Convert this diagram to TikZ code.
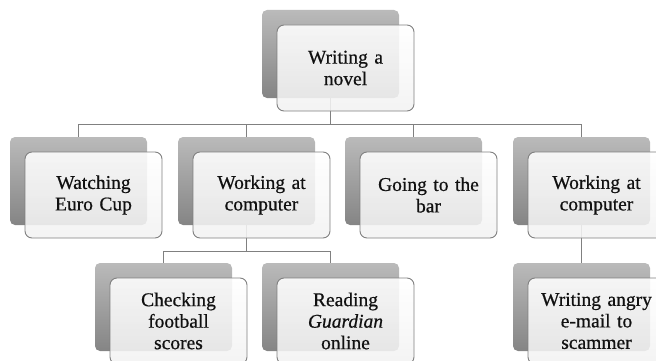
\documentclass[tikz,border=0pt]{standalone}
\usepackage{fontspec}
\setmainfont{Liberation Serif}
\newfontfamily\boxfont{Liberation Serif}[FakeBold=0.6]
\definecolor{linegray}{HTML}{808080}
\definecolor{txt}{HTML}{111111}
\tikzset{
  backbox/.style={rectangle, rounded corners=5pt, minimum width=137pt, minimum height=88pt,
    inner sep=0pt, outer sep=0pt, top color=black!27, bottom color=black!48, draw=none},
  frontbox/.style={rectangle, rounded corners=7pt, minimum width=137pt, minimum height=86pt,
    inner sep=0pt, outer sep=0pt, draw=linegray, line width=0.9pt,
    top color=white, bottom color=black!5, fill opacity=0.88, text opacity=1,
    text width=130pt, align=center, text=txt, font=\boxfont\fontsize{19.5}{21.5}\selectfont},
  conn/.style={draw=linegray, line width=0.9pt}
}
\newcommand\backpart[3]{\node[backbox, anchor=north west] (#1b) at (#2,#3) {};}
\newcommand\frontpart[4]{\node[frontbox, anchor=north west] (#1) at (#2+15,#3+15) {#4};}
\begin{document}
\begin{tikzpicture}[x=1pt,y=-1pt]
\useasboundingbox (0,0) rectangle (656,361);
% back boxes
\backpart{top}{262}{10}
\backpart{a}{10}{137}
\backpart{b}{178}{137}
\backpart{c}{345}{137}
\backpart{d}{513}{137}
\backpart{ba}{95}{263}
\backpart{bb}{262}{263}
\backpart{da}{513}{263}
% connectors
\draw[conn] (topb.south) -- ++(0,26) -| (ab.north);
\draw[conn] (topb.south) -- ++(0,26) -| (bb.north);
\draw[conn] (topb.south) -- ++(0,26) -| (cb.north);
\draw[conn] (topb.south) -- ++(0,26) -| (db.north);
\draw[conn] (bb.south) -- ++(0,26) -| (bab.north);
\draw[conn] (bb.south) -- ++(0,26) -| (bbb.north);
\draw[conn] (db.south) -- (dab.north);
% front boxes
\frontpart{top}{262}{10}{Writing a\\novel}
\frontpart{a}{10}{137}{Watching\\Euro Cup}
\frontpart{b}{178}{137}{Working at\\computer}
\frontpart{c}{345}{137}{Going to the\\bar}
\frontpart{d}{513}{137}{Working at\\computer}
\frontpart{ba}{95}{263}{Checking\\football\\scores}
\frontpart{bb}{262}{263}{Reading\\\textit{Guardian}\\online}
\frontpart{da}{513}{263}{Writing angry\\e-mail to\\scammer}
\end{tikzpicture}
\end{document}
